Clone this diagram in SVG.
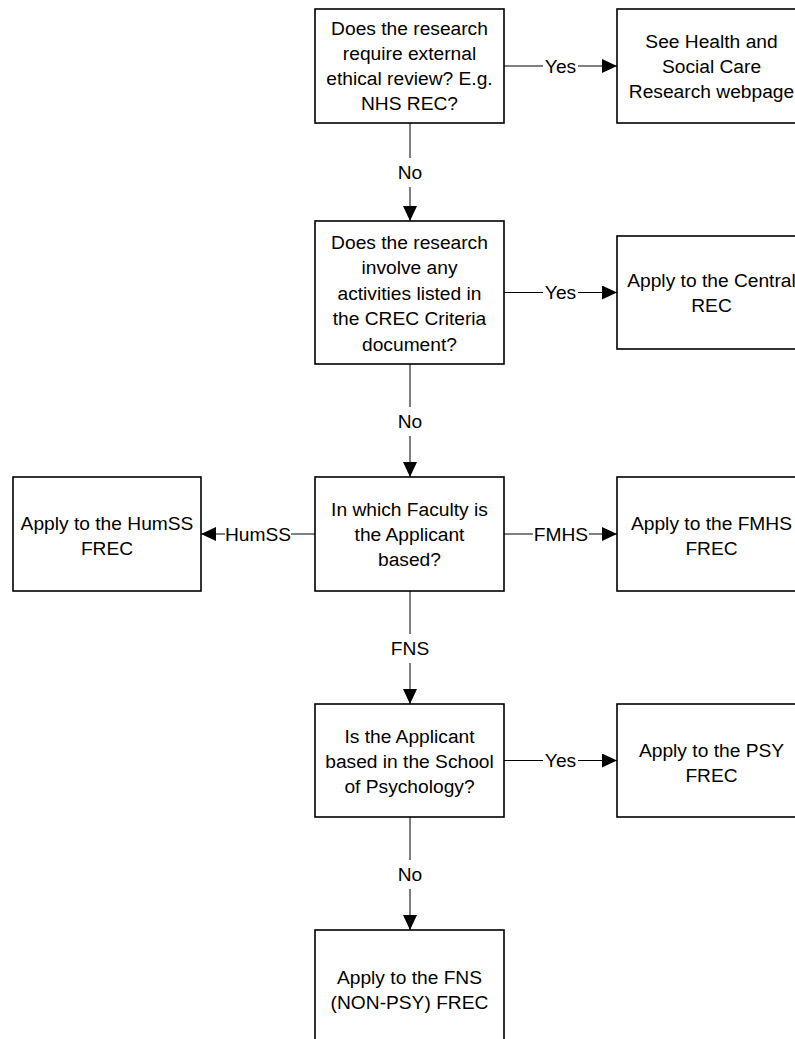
<svg xmlns="http://www.w3.org/2000/svg" width="795" height="1039" viewBox="0 0 795 1039">
  <style>
    .box { fill: #ffffff; stroke: #000000; stroke-width: 1.6; }
    .t { font-family: "Liberation Sans", Arial, sans-serif; font-size: 19.2px; fill: #000000; text-anchor: middle; dominant-baseline: central; }
    .edge { stroke: #000000; stroke-width: 1; fill: none; }
    .lblbg { fill: #ffffff; stroke: none; }
  </style>
  <defs>
    <marker id="arrow" markerUnits="userSpaceOnUse" markerWidth="16" markerHeight="14" refX="15" refY="7" orient="auto">
      <path d="M0,0 L15,7 L0,14 Z" fill="#000000"/>
    </marker>
  </defs>
  <rect width="795" height="1039" fill="#ffffff"/>

  <g id="connectors">
    <line class="edge" x1="504" y1="66" x2="617" y2="66" marker-end="url(#arrow)"/>
    <rect class="lblbg" x="543" y="54" width="35" height="24"/>
    <text class="t" x="560.5" y="66">Yes</text>

    <line class="edge" x1="410" y1="123" x2="410" y2="221" marker-end="url(#arrow)"/>
    <rect class="lblbg" x="395" y="158" width="30" height="29"/>
    <text class="t" x="410" y="172">No</text>

    <line class="edge" x1="504" y1="292.5" x2="617" y2="292.5" marker-end="url(#arrow)"/>
    <rect class="lblbg" x="543" y="280.5" width="35" height="24"/>
    <text class="t" x="560.5" y="292.5">Yes</text>

    <line class="edge" x1="410" y1="364" x2="410" y2="477" marker-end="url(#arrow)"/>
    <rect class="lblbg" x="395" y="407" width="30" height="29"/>
    <text class="t" x="410" y="421">No</text>

    <line class="edge" x1="315" y1="534" x2="201" y2="534" marker-end="url(#arrow)"/>
    <rect class="lblbg" x="225" y="522" width="66" height="24"/>
    <text class="t" x="258" y="534">HumSS</text>

    <line class="edge" x1="504" y1="534" x2="617" y2="534" marker-end="url(#arrow)"/>
    <rect class="lblbg" x="533" y="522" width="56" height="24"/>
    <text class="t" x="561" y="534">FMHS</text>

    <line class="edge" x1="410" y1="591" x2="410" y2="704" marker-end="url(#arrow)"/>
    <rect class="lblbg" x="389" y="634" width="42" height="29"/>
    <text class="t" x="410" y="648">FNS</text>

    <line class="edge" x1="504" y1="760.5" x2="617" y2="760.5" marker-end="url(#arrow)"/>
    <rect class="lblbg" x="543" y="748.5" width="35" height="24"/>
    <text class="t" x="560.5" y="760.5">Yes</text>

    <line class="edge" x1="410" y1="817" x2="410" y2="930" marker-end="url(#arrow)"/>
    <rect class="lblbg" x="395" y="860" width="30" height="29"/>
    <text class="t" x="410" y="874">No</text>
  </g>

  <g id="q-external">
    <rect class="box" x="315" y="9" width="189" height="114"/>
    <text class="t" x="409.5" y="28.5">Does the research</text>
    <text class="t" x="409.5" y="53.5">require external</text>
    <text class="t" x="409.5" y="78.5">ethical review? E.g.</text>
    <text class="t" x="409.5" y="103.5">NHS REC?</text>
  </g>

  <g id="see-hscr">
    <rect class="box" x="617" y="9" width="189" height="114"/>
    <text class="t" x="711.5" y="41.5">See Health and</text>
    <text class="t" x="711.5" y="66.5">Social Care</text>
    <text class="t" x="711.5" y="91.5">Research webpage</text>
  </g>

  <g id="q-crec">
    <rect class="box" x="315" y="221" width="189" height="143"/>
    <text class="t" x="409.5" y="242">Does the research</text>
    <text class="t" x="409.5" y="267.5">involve any</text>
    <text class="t" x="409.5" y="293">activities listed in</text>
    <text class="t" x="409.5" y="318.5">the CREC Criteria</text>
    <text class="t" x="409.5" y="344">document?</text>
  </g>

  <g id="apply-central">
    <rect class="box" x="617" y="236" width="189" height="113"/>
    <text class="t" x="711.5" y="280.5">Apply to the Central</text>
    <text class="t" x="711.5" y="305.5">REC</text>
  </g>

  <g id="apply-humss">
    <rect class="box" x="13" y="477" width="188" height="114"/>
    <text class="t" x="107" y="523">Apply to the HumSS</text>
    <text class="t" x="107" y="548">FREC</text>
  </g>

  <g id="q-faculty">
    <rect class="box" x="315" y="477" width="189" height="114"/>
    <text class="t" x="409.5" y="509">In which Faculty is</text>
    <text class="t" x="409.5" y="534">the Applicant</text>
    <text class="t" x="409.5" y="559">based?</text>
  </g>

  <g id="apply-fmhs">
    <rect class="box" x="617" y="477" width="189" height="114"/>
    <text class="t" x="711.5" y="523">Apply to the FMHS</text>
    <text class="t" x="711.5" y="548">FREC</text>
  </g>

  <g id="q-psychology">
    <rect class="box" x="315" y="704" width="189" height="113"/>
    <text class="t" x="409.5" y="736">Is the Applicant</text>
    <text class="t" x="409.5" y="761">based in the School</text>
    <text class="t" x="409.5" y="786">of Psychology?</text>
  </g>

  <g id="apply-psy">
    <rect class="box" x="617" y="704" width="189" height="113"/>
    <text class="t" x="711.5" y="750">Apply to the PSY</text>
    <text class="t" x="711.5" y="775">FREC</text>
  </g>

  <g id="apply-fns">
    <rect class="box" x="315" y="930" width="189" height="114"/>
    <text class="t" x="409.5" y="977">Apply to the FNS</text>
    <text class="t" x="409.5" y="1002">(NON-PSY) FREC</text>
  </g>
</svg>
